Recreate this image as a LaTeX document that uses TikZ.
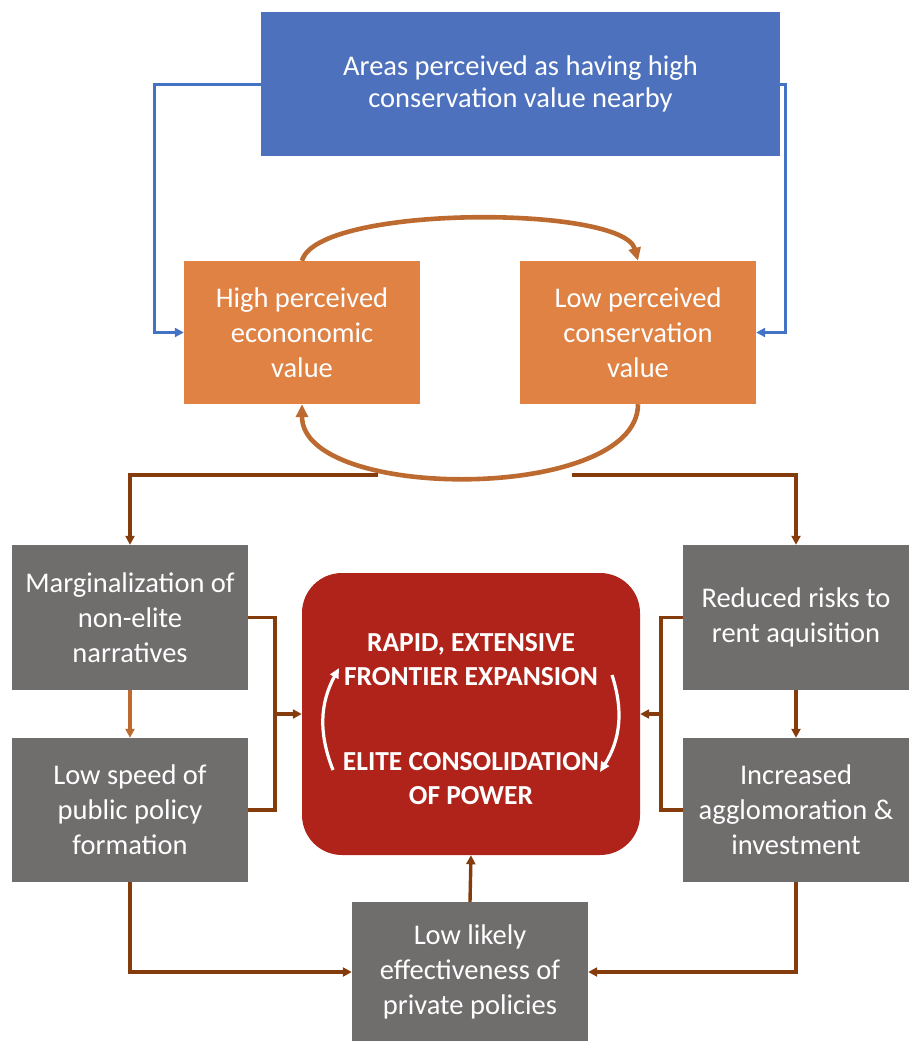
\documentclass[tikz,border=0pt]{standalone}
\usepackage{fontspec}
\setmainfont{Carlito}
\definecolor{fbblue}{HTML}{4E71BE}
\definecolor{fbline}{HTML}{4472C4}
\definecolor{fborange}{HTML}{DF8244}
\definecolor{fbarc}{HTML}{BC6A2F}
\definecolor{fbbrown}{HTML}{843C0C}
\definecolor{fbgrey}{HTML}{706D6D}
\definecolor{fbred}{HTML}{B0231A}
\usetikzlibrary{arrows.meta,positioning}

\begin{document}
\begin{tikzpicture}[x=1pt,y=-1pt,
    box/.style={text=white,inner sep=0pt,align=center,font=\fontsize{28.5}{35}\selectfont,
      minimum width=236pt,minimum height=144pt},
    arr/.style={-{Triangle[length=9pt,width=9pt]},fbbrown,line width=3.4pt},
    bluearr/.style={-{Triangle[length=9pt,width=9pt]},fbline,line width=3pt},
    looparr/.style={-{Triangle[length=13pt,width=12pt]},fbarc,line width=4.6pt},
    whitearr/.style={-{Triangle[length=10pt,width=9pt]},white,line width=3.2pt}]
  \useasboundingbox (0,0) rectangle (909,1041);
  % top part
  \node[box,fill=fbblue,minimum width=519pt,font=\fontsize{28.5}{32}\selectfont] (areas) at (520.5,84)
    {Areas perceived as having high\\conservation value nearby};
  \node[box,fill=fborange,minimum height=143pt] (hiEcon) at (302,332.5)
    {High perceived\\econonomic\\value};
  \node[box,fill=fborange,minimum height=143pt] (loCons) at (638,332.5)
    {Low perceived\\conservation\\value};
  \draw[bluearr] (areas.west) -- ++(-106,0) |- (hiEcon.west);
  \draw[bluearr] (areas.east) -- ++(5,0) |- (loCons.east);
  \draw[looparr] (hiEcon.north) .. controls +(15,-56) and +(-15,-56) .. (loCons.north);
  \draw[looparr] (loCons.south) .. controls +(0,98) and +(0,98) .. (hiEcon.south);
  % central core
  \node[fill=fbred,rounded corners=40pt,minimum width=338pt,minimum height=282pt] (core) at (471,714) {};
  \node[text=white,align=center,font=\fontsize{27.5}{34}\selectfont\bfseries] (expand) at (471,660)
    {RAPID, EXTENSIVE\\FRONTIER EXPANSION};
  \node[text=white,align=center,font=\fontsize{27.5}{34}\selectfont\bfseries] (elite) at (471,779)
    {ELITE CONSOLIDATION\\OF POWER};
  \draw[whitearr] (333,770) to[bend left=25] (339,668);
  \draw[whitearr] (612,675) to[bend left=25] (600,772);
  % grey boxes
  \node[box,fill=fbgrey,minimum height=145pt] (margin) at (130,617.5)
    {Marginalization of\\non-elite\\narratives};
  \node[box,fill=fbgrey] (speed) at (130,810)
    {Low speed of\\public policy\\formation};
  \node[box,fill=fbgrey,minimum width=226pt,minimum height=145pt] (risks) at (796,617.5)
    {Reduced risks to\\rent aquisition};
  \node[box,fill=fbgrey,minimum width=226pt] (agglo) at (796,810)
    {Increased\\agglomoration \&\\investment};
  \node[box,fill=fbgrey,minimum height=140pt] (privpol) at (470,972)
    {Low likely\\effectiveness of\\private policies};
  % connectors
  \coordinate (splitL) at (378,475);
  \coordinate (splitR) at (572,475);
  \coordinate (joinL) at (275,714);
  \coordinate (joinR) at (661,714);
  \draw[arr] (splitL) -| (margin.north);
  \draw[arr] (splitR) -| (risks.north);
  \draw[arr,fbarc] (margin.south) -- (speed.north);
  \draw[arr] (risks.south) -- (agglo.north);
  \draw[fbbrown,line width=3.4pt] (margin.east) -| (joinL) |- (speed.east);
  \draw[fbbrown,line width=3.4pt] (risks.west) -| (joinR) |- (agglo.west);
  \draw[arr] (joinL) -- (core.west);
  \draw[arr] (joinR) -- (core.east);
  \draw[arr] (speed.south) |- (privpol.west);
  \draw[arr] (agglo.south) |- (privpol.east);
  \draw[arr] (privpol.north) -- (core.south);
\end{tikzpicture}
\end{document}
